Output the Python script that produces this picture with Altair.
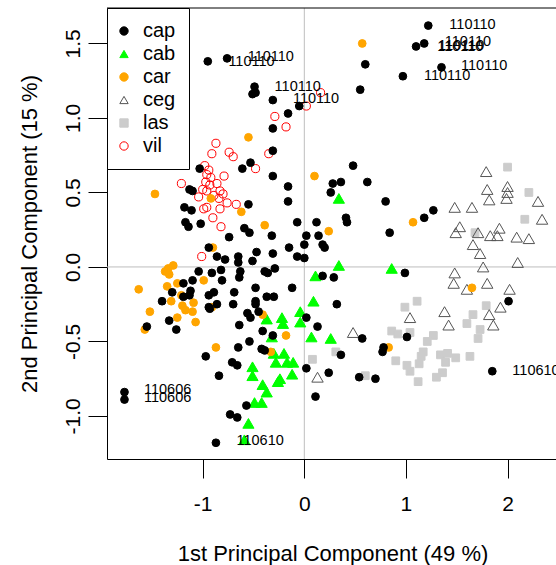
import altair as alt
import pandas as pd

FONT = "Liberation Sans"
groups = ["cap", "cab", "car", "ceg", "las", "vil"]

cap_x = [-0.95, -0.76, -0.49, -0.51, -0.48, -0.31, -0.16, -0.05, -0.31, -0.31,
         -0.53, -0.61, -1.03, -0.31, 1.22, 1.10, 1.18, 0.60, 1.35, 0.97,
         0.55, 0.48, -1.13, -1.10, -0.16, -0.16, -0.55, -1.18, -1.11, 0.28,
         0.36, 0.26, 0.62, 0.80, 0.41, 0.42, 0.84, 1.18, 1.27, -1.17,
         -1.14, -1.02, -0.59, -0.54, -0.74, -0.32, -0.07, 0.12, 0.02, 0.14,
         0.18, 0.20, 0.00, -0.15, -0.31, -0.47, -0.07, 0.00, -0.51, -0.65,
         -0.65, -0.78, -0.86, -0.94, -1.04, -0.91, -0.82, -0.81, -0.63, -0.64,
         -0.39, -0.36, -0.29, -0.12, -0.48, -0.69, -0.37, -0.30, -0.48, -0.48,
         -0.70, -0.86, -0.94, -0.93, -0.89, -0.94, -1.10, -1.19, -1.30, -1.12,
         -1.13, -1.19, -1.40, -1.55, -1.33, -1.26, -0.56, -0.53, -0.45, -0.64,
         -0.41, -0.31, -0.54, -0.65, -0.42, -0.39, -0.97, -0.71, -0.66, -0.84,
         -0.57, -0.73, -0.66, -0.87, -1.77, -1.77, 0.02, 0.13, 0.02, 0.24,
         0.11, 0.36, 0.18, 0.29, 0.32, 0.57, 0.54, 0.70, 0.78, 0.77,
         1.01, 0.99, 2.01, 1.85]
cap_y = [1.38, 1.40, 1.21, 1.16, 1.17, 1.12, 1.03, 1.08, 0.93, 0.78,
         0.70, 0.66, 0.66, 0.61, 1.62, 1.48, 1.50, 1.36, 1.34, 1.28,
         1.19, 0.68, 0.52, 0.51, 0.54, 0.44, 0.42, 0.40, 0.38, 0.56,
         0.57, 0.50, 0.57, 0.44, 0.33, 0.30, 0.23, 0.33, 0.38, 0.30,
         0.27, 0.29, 0.26, 0.23, 0.20, 0.21, 0.30, 0.30, 0.21, 0.21,
         0.15, 0.13, 0.15, 0.13, 0.09, 0.10, 0.07, 0.06, 0.04, 0.07,
         0.03, 0.05, 0.07, 0.13, -0.03, -0.04, -0.02, -0.09, -0.03, -0.07,
         -0.03, -0.04, -0.01, -0.14, -0.14, -0.17, -0.20, -0.20, -0.23, -0.25,
         -0.25, -0.25, -0.27, -0.28, -0.17, -0.19, -0.09, -0.11, -0.17, -0.16,
         -0.19, -0.20, -0.23, -0.40, -0.36, -0.42, -0.31, -0.34, -0.30, -0.39,
         -0.43, -0.46, -0.50, -0.54, -0.55, -0.56, -0.60, -0.64, -0.66, -0.73,
         -0.93, -0.99, -1.01, -1.18, -0.84, -0.89, -0.34, -0.40, -0.68, -0.71,
         -0.87, -0.59, -0.06, -0.07, -0.25, -0.48, -0.74, -0.75, -0.54, -0.57,
         -0.47, -0.04, -0.23, -0.70]

cab_x = [0.34, 0.34, 0.86, 0.11, 0.09, -0.04, -0.04, -0.22, -0.21, -0.37,
         -0.32, 0.07, 0.26, -0.30, -0.20, -0.28, -0.17, -0.11, -0.12, -0.24,
         -0.26, -0.51, -0.51, -0.41, -0.37, -0.49, -0.42, -0.55, -0.59]
cab_y = [0.46, 0.01, -0.01, -0.06, -0.23, -0.30, -0.37, -0.34, -0.38, -0.35,
         -0.47, -0.47, -0.48, -0.58, -0.58, -0.64, -0.64, -0.64, -0.72, -0.75,
         -0.77, -0.67, -0.73, -0.79, -0.84, -0.91, -0.91, -1.05, -1.16]

car_x = [0.57, -0.55, 0.10, -1.47, -0.92, -0.62, -0.39, 0.24, -0.90, 1.07,
         1.65, 0.83, -1.29, -1.34, -1.37, -1.33, -1.63, -1.35, -1.25, -0.99,
         -1.21, -1.31, -1.09, -1.20, -1.17, -1.10, -1.52, -1.25, -1.07, -1.57,
         -0.87, -0.18, -0.41, -0.91, -0.33]
car_y = [1.50, 0.87, 0.61, 0.49, 0.46, 0.37, 0.28, 0.24, 0.13, 0.30,
         -0.14, -0.54, 0.01, -0.01, -0.03, -0.05, -0.15, -0.13, -0.11, -0.09,
         -0.19, -0.23, -0.24, -0.26, -0.29, -0.30, -0.30, -0.34, -0.37, -0.42,
         -0.54, -0.46, -0.32, -0.27, -0.57]

ceg_x = [1.79, 1.80, 1.82, 2.00, 2.00, 1.99, 2.30, 2.34, 1.48, 1.65,
         1.53, 1.49, 1.71, 1.83, 1.90, 1.92, 2.09, 2.21, 1.66, 1.73,
         2.10, 1.76, 1.48, 1.47, 1.60, 1.80, 2.02, 1.93, 1.82, 1.86,
         1.38, 1.42, 1.04, 0.48, 0.13]
ceg_y = [0.64, 0.52, 0.45, 0.54, 0.50, 0.46, 0.44, 0.32, 0.40, 0.40,
         0.27, 0.23, 0.23, 0.21, 0.21, 0.26, 0.20, 0.19, 0.15, 0.09,
         0.03, 0.00, -0.04, -0.11, -0.15, -0.11, -0.15, -0.27, -0.32, -0.39,
         -0.30, -0.39, -0.34, -0.44, -0.74]

las_x = [2.00, 2.21, 2.17, 1.68, 1.11, 0.99, 1.79, 1.66, 1.60, 1.73,
         1.71, 0.86, 0.92, 1.04, 1.27, 1.21, 0.90, 1.01, 1.04, 1.17,
         1.15, 1.13, 1.12, 1.34, 1.41, 1.49, 1.39, 1.63, 1.36, 1.30,
         0.31, 0.60, 0.08]
las_y = [0.67, 0.50, 0.32, 0.23, -0.23, -0.27, -0.26, -0.32, -0.38, -0.42,
         -0.48, -0.43, -0.45, -0.44, -0.46, -0.50, -0.63, -0.66, -0.70, -0.57,
         -0.60, -0.65, -0.77, -0.59, -0.58, -0.61, -0.64, -0.60, -0.71, -0.74,
         -0.57, -0.73, -0.62]

vil_x = [0.02, 0.16, -0.29, -0.18, -0.87, -0.74, -0.70, -0.91, -0.35, -0.48,
         -0.98, -0.94, -0.96, -0.92, -0.97, -0.86, -0.93, -0.79, -1.21, -0.83,
         -0.96, -1.00, -1.04, -0.89, -0.80, -0.84, -0.76, -0.67, -0.83, -0.96,
         -0.99, -0.90, -0.82, -1.01]
vil_y = [1.08, 1.17, 1.01, 0.94, 0.83, 0.77, 0.74, 0.76, 0.76, 0.66,
         0.68, 0.65, 0.62, 0.60, 0.57, 0.56, 0.55, 0.61, 0.56, 0.51,
         0.51, 0.52, 0.47, 0.48, 0.49, 0.46, 0.43, 0.42, 0.39, 0.40,
         0.39, 0.33, 0.27, 0.07]

lab_text = ["110110", "110110", "110110", "110110", "110110", "110110",
            "110110", "110110", "110110", "110110",
            "110610", "110606", "110606", "110610"]
lab_x = [1.655, 1.535, 1.545, 1.61, 1.77, 1.405, -0.52, -0.33, -0.065, 0.115,
         2.28, -1.345, -1.345, -0.435]
lab_y = [1.624, 1.477, 1.483, 1.51, 1.35, 1.28, 1.376, 1.41, 1.21, 1.13,
         -0.70, -0.825, -0.88, -1.17]

# marker styling per group (not data)
fill_range = ["#000000", "#00FF00", "#FFA500", "transparent", "#CCCCCC", "transparent"]
stroke_range = ["#000000", "#00FF00", "#FFA500", "#555555", "#CCCCCC", "#FF0000"]
shape_range = ["circle", "triangle-up", "circle", "triangle-up", "square", "circle"]
marker_size = {"cap": 60, "cab": 125, "car": 60, "ceg": 130, "las": 60, "vil": 66}

# draw order: later groups on top
series = [("vil", vil_x, vil_y), ("las", las_x, las_y), ("ceg", ceg_x, ceg_y),
          ("cab", cab_x, cab_y), ("car", car_x, car_y), ("cap", cap_x, cap_y)]
rows = []
for g, xs_, ys_ in series:
    assert len(xs_) == len(ys_), g
    for a, b in zip(xs_, ys_):
        rows.append({"pc1": a, "pc2": b, "group": g, "sz": marker_size[g]})
points = pd.DataFrame(rows)
labels = pd.DataFrame({"pc1": lab_x, "pc2": lab_y, "txt": lab_text})

X_DOM = [-1.942, 2.477]
Y_DOM = [-1.289, 1.738]
xscale = alt.Scale(domain=X_DOM, nice=False, zero=False)
yscale = alt.Scale(domain=Y_DOM, nice=False, zero=False)

x_axis = alt.Axis(values=[-1, 0, 1, 2], format="d", title="1st Principal Component (49 %)",
                  grid=False, domain=True, domainColor="black", domainWidth=1,
                  tickSize=19, tickColor="black", tickWidth=1,
                  labelFont=FONT, labelFontSize=21, labelColor="black", labelPadding=15,
                  labelExpr="replace(datum.label, '\u2212', '-')",
                  titleFont=FONT, titleFontSize=22, titleFontWeight="normal", titleColor="black",
                  titleY=101, titleBaseline="alphabetic", titleX=225.5)
y_axis = alt.Axis(values=[-1, -0.5, 0, 0.5, 1, 1.5], format=".1f",
                  title="2nd Principal Component (15 %)",
                  grid=False, domain=True, domainColor="black", domainWidth=1,
                  tickSize=19, tickColor="black", tickWidth=1,
                  labelFont=FONT, labelFontSize=21, labelColor="black", labelPadding=9,
                  labelAngle=270, labelAlign="center", labelBaseline="alphabetic",
                  labelExpr="replace(datum.label, '\u2212', '-')",
                  titleFont=FONT, titleFontSize=22, titleFontWeight="normal", titleColor="black",
                  titleAngle=270, titleX=-71, titleY=225.5, titleBaseline="alphabetic",
                  titleAlign="center")

x_enc = alt.X("pc1:Q", scale=xscale, axis=x_axis)
y_enc = alt.Y("pc2:Q", scale=yscale, axis=y_axis)

leg = alt.Legend(title=None, orient="none", legendX=0, legendY=0,
                 strokeColor="black", fillColor="white", padding=13,
                 rowPadding=3, symbolOffset=-6, labelOffset=9,
                 labelFont=FONT, labelFontSize=20, labelColor="black",
                 symbolSize=70, symbolStrokeWidth=1, cornerRadius=0)

vline = alt.Chart(pd.DataFrame({"pc1": [0.0]})).mark_rule(
    color="#BEBEBE", strokeWidth=1).encode(x=x_enc)
hline = alt.Chart(pd.DataFrame({"pc2": [0.0]})).mark_rule(
    color="#BEBEBE", strokeWidth=1).encode(y=y_enc)
topline = alt.Chart(pd.DataFrame({"pc2": [Y_DOM[1]]})).mark_rule(
    color="black", strokeWidth=1).encode(y=y_enc)

pts = alt.Chart(points).mark_point(opacity=1, strokeWidth=1).encode(
    x=x_enc, y=y_enc,
    fill=alt.Fill("group:N", scale=alt.Scale(domain=groups, range=fill_range), legend=leg),
    stroke=alt.Stroke("group:N", scale=alt.Scale(domain=groups, range=stroke_range), legend=leg),
    shape=alt.Shape("group:N", scale=alt.Scale(domain=groups, range=shape_range), legend=leg),
    size=alt.Size("sz:Q", scale=None, legend=None),
)

txt = alt.Chart(labels).mark_text(font=FONT, fontSize=14.5, color="black",
                                  align="center", baseline="middle").encode(
    x=x_enc, y=y_enc, text="txt:N")

chart = alt.layer(vline, hline, pts, txt, topline).properties(
    width=449, height=451,
    autosize=alt.AutoSizeParams(type="none"),
    padding={"left": 107, "top": 8, "right": 0, "bottom": 106},
    background="white",
).configure_view(stroke=None)

chart.save("out.html", embed_options={"renderer": "svg", "actions": False})
